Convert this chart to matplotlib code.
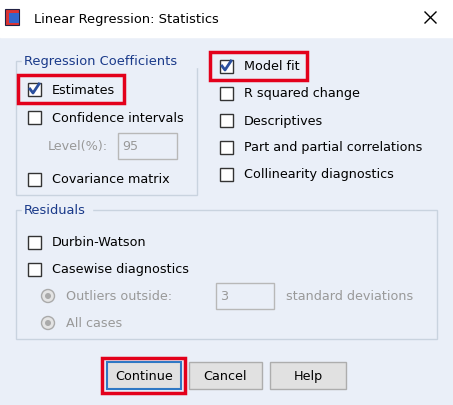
import matplotlib
matplotlib.use("Agg")
import matplotlib.pyplot as plt
from matplotlib.patches import Rectangle, Circle

W, H = 453, 406
BG = "#eaeff8"
FONT = "DejaVu Sans"

coef_labels = ["Estimates", "Confidence intervals", "Covariance matrix"]
coef_checked = [True, False, False]
coef_y = [90, 118, 180]
right_labels = ["Model fit", "R squared change", "Descriptives",
                "Part and partial correlations", "Collinearity diagnostics"]
right_checked = [True, False, False, False, False]
right_y = [67, 94, 121, 148, 175]
resid_labels = ["Durbin-Watson", "Casewise diagnostics"]
resid_y = [243, 270]
radio_labels = ["Outliers outside:", "All cases"]
radio_y = [297, 324]
buttons = ["Continue", "Cancel", "Help"]
button_x = [107, 189, 270]
button_w = [74, 73, 76]

fig = plt.figure(figsize=(W / 100, H / 100), dpi=100)
ax = fig.add_axes([0, 0, 1, 1])
ax.set_xlim(0, W)
ax.set_ylim(H, 0)
ax.axis("off")

ax.add_patch(Rectangle((0, 0), W, H, color=BG))
ax.add_patch(Rectangle((0, 0), W, 38, color="white"))
# window icon
ax.add_patch(Rectangle((5, 10), 14, 16, facecolor="#d33", edgecolor="#224", lw=0.8))
ax.add_patch(Rectangle((9, 14), 10, 10, facecolor="#36c", edgecolor="none"))
ax.text(34, 19, "Linear Regression: Statistics", fontsize=9.4, va="center", family=FONT)
ax.plot([425, 436], [13, 24], color="black", lw=1)
ax.plot([425, 436], [24, 13], color="black", lw=1)


def txt(x, y, s, color="black"):
    ax.text(x, y, s, fontsize=9.2, va="center", color=color, family=FONT)


def checkbox(x, y, label, checked, color="black"):
    ax.add_patch(Rectangle((x - 6.5, y - 6.5), 13, 13, facecolor="white", edgecolor="#333", lw=1))
    if checked:
        ax.plot([x - 4, x - 1, x + 5], [y, y + 4, y - 5], color="#2a4f9e", lw=2)
    txt(x + 18, y, label, color)


def radio(x, y, label):
    ax.add_patch(Circle((x, y), 6.5, facecolor="#e4e4e4", edgecolor="#aaa", lw=1))
    ax.add_patch(Circle((x, y), 3, facecolor="#aaa", edgecolor="none"))
    txt(x + 18, y, label, "#999")


def group(x0, y0, x1, y1, title, tw):
    ax.add_patch(Rectangle((x0, y0), x1 - x0, y1 - y0, fill=False, edgecolor="#c9d3df", lw=1))
    ax.add_patch(Rectangle((x0 + 6, y0 - 6), tw, 12, color=BG))
    ax.text(x0 + 8, y0, title, fontsize=9.4, va="center", color="#1a3a8a", family=FONT)


def entry(x0, y0, x1, y1, s):
    ax.add_patch(Rectangle((x0, y0), x1 - x0, y1 - y0, facecolor=BG, edgecolor="#b8b8b8", lw=1))
    txt(x0 + 4, (y0 + y1) / 2, s, "#999")


group(16, 62, 197, 196, "Regression Coefficients", 176)
for lab, chk, y in zip(coef_labels, coef_checked, coef_y):
    checkbox(34, y, lab, chk)
txt(48, 147, "Level(%):", "#999")
entry(118, 134, 177, 160, "95")

for lab, chk, y in zip(right_labels, right_checked, right_y):
    checkbox(226, y, lab, chk)

group(16, 211, 437, 340, "Residuals", 70)
for lab, y in zip(resid_labels, resid_y):
    checkbox(34, y, lab, False)
for lab, y in zip(radio_labels, radio_y):
    radio(48, y, lab)
entry(216, 284, 274, 310, "3")
txt(286, 297, "standard deviations", "#999")

for i, (lab, x, w) in enumerate(zip(buttons, button_x, button_w)):
    ax.add_patch(Rectangle((x, 363), w, 27, facecolor="#e1e1e1",
                           edgecolor="#2f78c4" if i == 0 else "#adadad", lw=1.5 if i == 0 else 1))
    ax.text(x + w / 2, 377, lab, fontsize=9.2, ha="center", va="center", family=FONT)

# red highlights
for (x0, y0, x1, y1) in [(18, 76, 124, 104), (210, 53, 307, 81), (102, 359, 185, 394)]:
    ax.add_patch(Rectangle((x0, y0), x1 - x0, y1 - y0, fill=False, edgecolor="#e3001b", lw=2.5))

fig.savefig("out.png", dpi=100)
